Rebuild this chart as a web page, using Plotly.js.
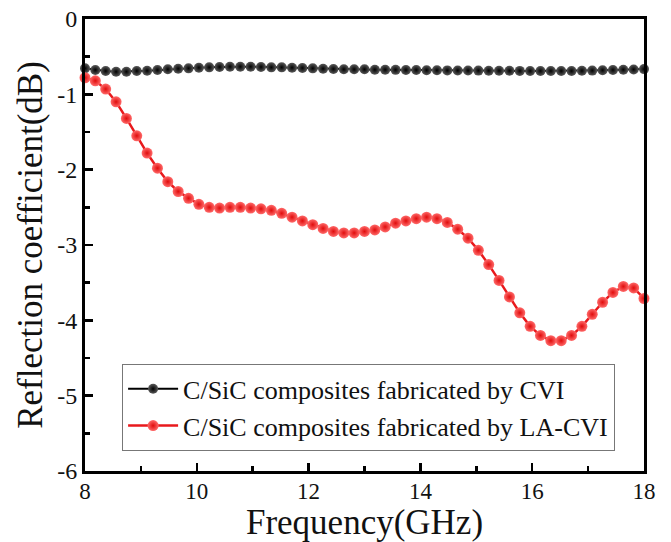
<!DOCTYPE html>
<html>
<head>
<meta charset="utf-8">
<script src="https://cdn.plot.ly/plotly-3.0.1.min.js"></script>
<style>html,body{margin:0;padding:0;background:#fff;}#chart{width:671px;height:542px;}</style>
</head>
<body>
<div id="chart"></div>
<script>
// Frequency points (GHz): 55 samples from 8 to 18
const frequency = [8.000,8.185,8.370,8.556,8.741,8.926,9.111,9.296,9.481,9.667,9.852,10.037,10.222,10.407,10.593,10.778,10.963,11.148,11.333,11.519,11.704,11.889,12.074,12.259,12.444,12.630,12.815,13.000,13.185,13.370,13.556,13.741,13.926,14.111,14.296,14.481,14.667,14.852,15.037,15.222,15.407,15.593,15.778,15.963,16.148,16.333,16.519,16.704,16.889,17.074,17.259,17.444,17.630,17.815,18.000];

const seriesNames = ["C/SiC composites fabricated by CVI", "C/SiC composites fabricated by LA-CVI"];

const cviValues = [-0.655,-0.677,-0.690,-0.700,-0.700,-0.690,-0.686,-0.677,-0.668,-0.660,-0.655,-0.646,-0.642,-0.637,-0.633,-0.633,-0.633,-0.637,-0.642,-0.642,-0.646,-0.650,-0.655,-0.660,-0.664,-0.668,-0.668,-0.668,-0.673,-0.673,-0.675,-0.677,-0.678,-0.680,-0.681,-0.682,-0.683,-0.684,-0.685,-0.686,-0.687,-0.688,-0.689,-0.690,-0.690,-0.690,-0.690,-0.690,-0.688,-0.685,-0.680,-0.677,-0.673,-0.670,-0.665];

const laCviValues = [-0.78,-0.82,-0.93,-1.10,-1.32,-1.55,-1.78,-1.98,-2.16,-2.29,-2.38,-2.46,-2.50,-2.51,-2.50,-2.50,-2.51,-2.52,-2.54,-2.58,-2.63,-2.68,-2.73,-2.78,-2.82,-2.84,-2.84,-2.82,-2.80,-2.76,-2.71,-2.68,-2.65,-2.63,-2.65,-2.70,-2.79,-2.91,-3.07,-3.26,-3.47,-3.69,-3.90,-4.08,-4.20,-4.27,-4.27,-4.20,-4.08,-3.92,-3.76,-3.63,-3.55,-3.57,-3.71];

const xTicks = [8,10,12,14,16,18];
const yTicks = [-6,-5,-4,-3,-2,-1,0];

const fontFam = "Liberation Serif, Times New Roman, serif";

const traces = [
  {
    x: frequency, y: cviValues, name: seriesNames[0], type: "scatter", mode: "lines+markers",
    line: {color: "#000000", width: 2},
    marker: {size: 10, color: "#5a5a5a", gradient: {type: "radial", color: "#000000"}, line: {width: 0}},
    cliponaxis: false
  },
  {
    x: frequency, y: laCviValues, name: seriesNames[1], type: "scatter", mode: "lines+markers",
    line: {color: "#e8191c", width: 2.5},
    marker: {size: 11, color: "#ff6a6a", gradient: {type: "radial", color: "#e00c0c"}, line: {width: 0}},
    cliponaxis: false
  }
];

const layout = {
  width: 671, height: 542,
  margin: {l: 85, r: 27, t: 19, b: 71},
  paper_bgcolor: "#ffffff", plot_bgcolor: "#ffffff",
  font: {family: fontFam, color: "#111111"},
  showlegend: true,
  legend: {
    x: 0.066, y: 0.14, xanchor: "left", yanchor: "middle",
    bgcolor: "#ffffff", bordercolor: "#777777", borderwidth: 1.2,
    font: {family: fontFam, size: 26, color: "#111111"},
    itemwidth: 50, tracegroupgap: 0
  },
  xaxis: {
    range: [8, 18], tickmode: "array", tickvals: xTicks, ticktext: xTicks.map(String),
    ticks: "inside", ticklen: 8, tickwidth: 2.5, tickcolor: "#000",
    ticklabelstandoff: -3,
    minor: {dtick: 1, ticks: "inside", ticklen: 5, tickwidth: 2.5, tickcolor: "#000", showgrid: false},
    showline: true, linecolor: "#000", linewidth: 3, mirror: true,
    showgrid: false, zeroline: false,
    tickfont: {family: fontFam, size: 23, color: "#111"},
    title: {text: "Frequency(GHz)", font: {family: fontFam, size: 35, color: "#111"}, standoff: 8}
  },
  yaxis: {
    range: [-6, 0], tickmode: "array", tickvals: yTicks, ticktext: yTicks.map(String),
    ticks: "inside", ticklen: 8, tickwidth: 2.5, tickcolor: "#000",
    minor: {dtick: 0.5, ticks: "inside", ticklen: 5, tickwidth: 2.5, tickcolor: "#000", showgrid: false},
    showline: true, linecolor: "#000", linewidth: 3, mirror: true,
    showgrid: false, zeroline: false,
    tickfont: {family: fontFam, size: 24, color: "#111"},
    title: {text: "Reflection coefficient(dB)", font: {family: fontFam, size: 35, color: "#111"}, standoff: 4}
  }
};

Plotly.newPlot("chart", traces, layout, {displayModeBar: false, staticPlot: true});
</script>
</body>
</html>
